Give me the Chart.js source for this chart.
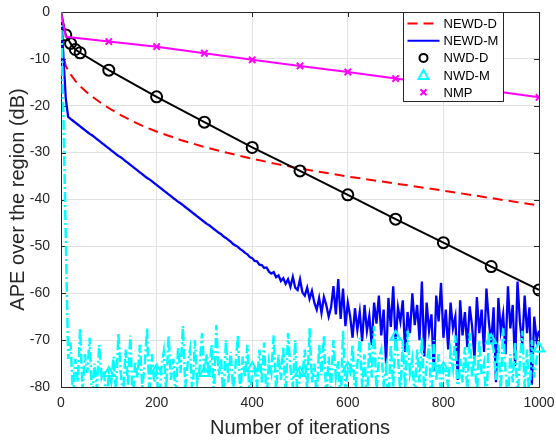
<!DOCTYPE html>
<html>
<head>
<meta charset="utf-8">
<script src="https://cdn.jsdelivr.net/npm/chart.js@4.4.1/dist/chart.umd.min.js"></script>
<style>
  html, body { margin: 0; padding: 0; background: #fff; }
  #wrap { width: 556px; height: 440px; }
</style>
</head>
<body>
<div id="wrap"><canvas id="apeChart" width="556" height="440"></canvas></div>
<script>
// NEWD-M and NWD-M are logged every STEP iterations
const STEP = 5;

// NEWD-D (dashed red)
const newdDIter = [0, 5, 10, 20, 30, 40, 55, 70, 85, 100, 125, 150, 175, 200, 250, 300, 350, 400, 450, 500, 600, 700, 800, 900, 1000];
const newdDApe = [0, -9.5, -11.5, -13.3, -14.7, -15.8, -17.2, -18.4, -19.5, -20.5, -22.0, -23.3, -24.5, -25.5, -27.3, -28.8, -30.1, -31.3, -32.4, -33.4, -35.1, -36.6, -38.1, -39.7, -41.3];

// NEWD-M (solid blue), iterations 0, 5, 10, ... 1000
const newdMApe = [
  0, -9.5, -18.5, -22.4, -22.8, -23.2, -23.6, -24.0, -24.4, -24.8,
  -25.2, -25.6, -26.0, -26.3, -26.7, -27.1, -27.5, -27.9, -28.3, -28.7,
  -29.1, -29.5, -29.9, -30.3, -30.7, -31.0, -31.4, -31.8, -32.2, -32.6,
  -33.0, -33.4, -33.8, -34.2, -34.6, -35.0, -35.4, -35.7, -36.1, -36.5,
  -36.9, -37.3, -37.7, -38.1, -38.5, -38.9, -39.3, -39.7, -40.1, -40.5,
  -40.8, -41.2, -41.6, -42.0, -42.4, -42.8, -43.2, -43.6, -44.0, -44.4,
  -44.8, -45.2, -45.5, -45.9, -46.3, -46.7, -47.1, -47.4, -47.9, -48.2,
  -48.6, -49.0, -49.5, -49.8, -50.1, -50.6, -50.9, -51.4, -51.7, -52.3,
  -52.5, -53.1, -53.2, -53.9, -54.0, -54.6, -54.5, -55.4, -55.8, -55.5,
  -56.6, -56.2, -57.4, -56.8, -58.0, -57.0, -58.6, -56.5, -58.8, -59.3,
  -57.0, -59.8, -60.5, -58.8, -61.2, -59.5, -62.0, -63.5, -61.0, -64.2,
  -60.8, -62.5, -65.0, -63.0, -58.5, -64.5, -57.0, -65.5, -59.0, -67.0,
  -62.0, -65.0, -69.5, -63.2, -67.8, -64.0, -70.2, -62.5, -68.0, -64.8,
  -71.0, -62.0, -66.5, -60.5, -69.0, -63.5, -75.0, -61.0, -67.2, -58.5,
  -70.5, -63.0, -66.0, -61.5, -72.5, -64.0, -68.5, -60.0, -66.8, -62.5,
  -70.0, -57.5, -73.5, -62.0, -68.0, -64.5, -76.5, -60.5, -66.0, -57.8,
  -69.5, -63.5, -72.0, -62.0, -67.5, -65.0, -78.5, -61.5, -69.0, -64.0,
  -71.5, -62.8, -67.0, -74.0, -60.8, -68.5, -63.5, -72.5, -59.0, -66.0,
  -70.8, -63.0, -79.0, -61.0, -68.0, -64.5, -73.0, -58.5, -67.5, -62.5,
  -75.5, -57.5, -66.0, -71.0, -60.5, -68.5, -63.0, -79.5, -65.0, -70.0,
  -68.0
];

// NWD-D (black, circles)
const nwdDIter = [0, 10, 20, 30, 40, 100, 200, 300, 400, 500, 600, 700, 800, 900, 1000];
const nwdDApe = [0, -4.9, -6.7, -8.0, -8.7, -12.4, -18.1, -23.5, -28.9, -33.9, -39.0, -44.2, -49.2, -54.3, -59.3];
const nwdDMarks = [10, 20, 30, 40, 100, 200, 300, 400, 500, 600, 700, 800, 900, 1000];

// NWD-M (dash-dot cyan, triangles), iterations 0, 5, 10, ... 1000
const nwdMApe = [
  0, -22, -48, -74,
  -70.5, -82, -74, -79, -67.5, -81, -73, -77, -69.5, -83,
  -75, -80.5, -71, -78, -76.5, -84, -77, -79, -73.5, -81,
  -68.5, -77, -82, -72, -79.5, -69, -83, -74.5, -78, -71,
  -80, -75.5, -67.5, -82, -73, -79, -76.5, -84, -76, -72.5,
  -81, -69, -78.5, -74, -83, -71.5, -77, -67, -80, -75,
  -72, -82.5, -70, -79, -76, -68.5, -77, -73, -78, -71,
  -81.5, -66.8, -77.5, -74, -83, -70, -79, -72.5, -80.5, -75.5,
  -69, -82, -73.5, -78, -71, -84, -76, -76, -80, -72,
  -79, -70.5, -83, -74.5, -77, -69, -81, -73, -78.5, -71.5,
  -82, -68.5, -76, -80, -70, -84, -77, -78, -72, -81,
  -67.5, -79, -75, -82.5, -71, -77.5, -69, -83, -73.5, -80,
  -70, -78, -74.5, -84, -68, -81, -76, -77, -71, -82,
  -75, -69.5, -80, -73, -83.5, -70.5, -78, -67, -81, -74,
  -72, -79.5, -76, -84, -71, -80, -69.3, -73.5, -82, -70,
  -80.5, -68, -77, -74, -83, -72, -79, -69.5, -81.5, -75,
  -71, -84, -70, -78.5, -73, -82, -76, -77, -80, -72.5,
  -76, -69, -83, -74, -79, -71.5, -81, -68.5, -78, -73,
  -82.5, -70, -77.5, -75, -84, -69, -70, -72, -78.5, -71,
  -81, -67.5, -76.5, -83, -73, -79, -70.5, -82, -74.5, -68,
  -80, -72, -84, -70, -78, -74, -71.8
];

// NMP (magenta, x marks)
const nmpIter = [0, 10, 100, 200, 300, 400, 500, 600, 700, 800, 900, 1000];
const nmpApe = [0, -5.3, -6.3, -7.4, -8.8, -10.2, -11.5, -12.8, -14.2, -15.5, -16.8, -18.2];

const hundredMarks = [100, 200, 300, 400, 500, 600, 700, 800, 900, 1000];

const xTickStep = 200;
const yTickStep = 10;

const FONT = "'Liberation Sans', Arial, Helvetica, sans-serif";
const AXIS_INK = '#262626';

const pairUp = (xs, ys) => xs.map((x, i) => ({ x: x, y: ys[i] }));
const onGrid = ys => ys.map((y, i) => ({ x: i * STEP, y: y }));
const markAt = (list, r) => ctx => (ctx.raw && list.includes(ctx.raw.x) ? r : 0);

// box round the plot with inward tick marks
const axesFrame = {
  id: 'axesFrame',
  beforeDatasetsDraw(chart) {
    const { ctx, chartArea: a, scales } = chart;
    const len = 5;
    ctx.save();
    ctx.strokeStyle = AXIS_INK;
    ctx.lineWidth = 1;
    ctx.beginPath();
    scales.x.ticks.forEach(t => {
      const px = Math.round(scales.x.getPixelForValue(t.value)) + 0.5;
      ctx.moveTo(px, a.bottom); ctx.lineTo(px, a.bottom - len);
      ctx.moveTo(px, a.top); ctx.lineTo(px, a.top + len);
    });
    scales.y.ticks.forEach(t => {
      const py = Math.round(scales.y.getPixelForValue(t.value)) + 0.5;
      ctx.moveTo(a.left, py); ctx.lineTo(a.left + len, py);
      ctx.moveTo(a.right, py); ctx.lineTo(a.right - len, py);
    });
    ctx.stroke();
    ctx.strokeRect(Math.round(a.left) + 0.5, Math.round(a.top) + 0.5,
      Math.round(a.right - a.left), Math.round(a.bottom - a.top));
    ctx.restore();
  }
};

// boxed legend in the top-right corner of the plot
const cornerLegend = {
  id: 'cornerLegend',
  afterDatasetsDraw(chart) {
    const { ctx, chartArea: a } = chart;
    const boxL = Math.round(a.right) - 136 + 0.5;
    const boxT = Math.round(a.top) + 0.5;
    const boxW = 100, boxH = 89;
    const rowH = 17.2;
    const sampleL = boxL + 4, sampleR = boxL + 36;
    const markX = (sampleL + sampleR) / 2;
    const textX = boxL + 40;

    ctx.save();
    ctx.fillStyle = '#fff';
    ctx.fillRect(boxL, boxT, boxW, boxH);
    ctx.strokeStyle = AXIS_INK;
    ctx.lineWidth = 1;
    ctx.strokeRect(boxL, boxT, boxW, boxH);

    chart.data.datasets.forEach((ds, i) => {
      const cy = boxT + 11 + i * rowH;
      ctx.save();
      ctx.strokeStyle = ds.borderColor;
      ctx.lineWidth = 2;
      if (ds.legendMarker) {
        ctx.setLineDash([]);
        ctx.strokeStyle = ds.pointBorderColor;
        ctx.beginPath();
        if (ds.pointStyle === 'circle') {
          ctx.arc(markX, cy, 4, 0, Math.PI * 2);
        } else if (ds.pointStyle === 'triangle') {
          ctx.moveTo(markX, cy - 5);
          ctx.lineTo(markX + 5, cy + 4);
          ctx.lineTo(markX - 5, cy + 4);
          ctx.closePath();
        } else {
          ctx.moveTo(markX - 3, cy - 3); ctx.lineTo(markX + 3, cy + 3);
          ctx.moveTo(markX + 3, cy - 3); ctx.lineTo(markX - 3, cy + 3);
        }
        ctx.stroke();
      } else {
        ctx.setLineDash(ds.borderDash || []);
        ctx.beginPath();
        ctx.moveTo(sampleL, cy);
        ctx.lineTo(sampleR, cy);
        ctx.stroke();
      }
      ctx.restore();

      ctx.fillStyle = '#000';
      ctx.font = '13px ' + FONT;
      ctx.textBaseline = 'middle';
      ctx.textAlign = 'left';
      ctx.fillText(ds.label, textX, cy + 1);
    });
    ctx.restore();
  }
};

// pin the plot box: no extra room for overhanging tick labels
const pinX = scale => {
  scale.height = 53;
  scale.paddingLeft = 0;
  scale.paddingRight = 0;
};
const pinY = scale => {
  scale.width = 61;
  scale.paddingTop = 0;
  scale.paddingBottom = 0;
};

new Chart(document.getElementById('apeChart'), {
  type: 'line',
  data: {
    datasets: [
      {
        label: 'NEWD-D',
        data: pairUp(newdDIter, newdDApe),
        borderColor: '#ff0000',
        borderWidth: 2,
        borderDash: [10, 6],
        pointRadius: 0,
        order: 5
      },
      {
        label: 'NEWD-M',
        data: onGrid(newdMApe),
        borderColor: '#0000ff',
        borderWidth: 2.3,
        pointRadius: 0,
        order: 4
      },
      {
        label: 'NWD-D',
        data: pairUp(nwdDIter, nwdDApe),
        borderColor: '#000000',
        borderWidth: 2,
        pointStyle: 'circle',
        pointRadius: markAt(nwdDMarks, 5.5),
        pointBorderColor: '#000000',
        pointBackgroundColor: 'rgba(0,0,0,0)',
        pointBorderWidth: 2,
        legendMarker: true,
        order: 3
      },
      {
        label: 'NWD-M',
        data: onGrid(nwdMApe),
        borderColor: '#00ffff',
        borderWidth: 2.5,
        borderDash: [10, 3, 2, 3],
        pointStyle: 'triangle',
        pointRadius: markAt(hundredMarks, 6),
        pointBorderColor: '#00ffff',
        pointBackgroundColor: 'rgba(0,0,0,0)',
        pointBorderWidth: 2,
        legendMarker: true,
        clip: { left: 0, top: 0, right: 9, bottom: 0 },
        order: 2
      },
      {
        label: 'NMP',
        data: pairUp(nmpIter, nmpApe),
        borderColor: '#ff00ff',
        borderWidth: 2,
        pointStyle: 'crossRot',
        pointRadius: markAt(hundredMarks, 4.5),
        pointBorderColor: '#ff00ff',
        pointBorderWidth: 2,
        legendMarker: true,
        order: 1
      }
    ]
  },
  options: {
    responsive: false,
    animation: false,
    devicePixelRatio: 1,
    layout: { padding: { top: 12, right: 17, left: 0, bottom: 0 } },
    elements: { line: { tension: 0 } },
    plugins: {
      legend: { display: false },
      tooltip: { enabled: false }
    },
    scales: {
      x: {
        type: 'linear',
        min: 0,
        max: 1000,
        afterFit: pinX,
        ticks: {
          stepSize: xTickStep,
          padding: 8,
          color: AXIS_INK,
          font: { family: FONT, size: 14 },
          maxRotation: 0,
          callback: v => String(v)
        },
        grid: { color: '#e1e1e1', drawTicks: false },
        border: { display: false },
        title: {
          display: true,
          text: 'Number of iterations',
          color: AXIS_INK,
          font: { family: FONT, size: 20 },
          padding: { top: 0, bottom: 0 }
        }
      },
      y: {
        type: 'linear',
        min: -80,
        max: 0,
        afterFit: pinY,
        ticks: {
          stepSize: yTickStep,
          padding: 11,
          color: AXIS_INK,
          font: { family: FONT, size: 14 },
          callback: v => String(v)
        },
        grid: { color: '#e1e1e1', drawTicks: false },
        border: { display: false },
        title: {
          display: true,
          text: 'APE over the region (dB)',
          color: AXIS_INK,
          font: { family: FONT, size: 20 },
          padding: { top: 6, bottom: 0 }
        }
      }
    }
  },
  plugins: [axesFrame, cornerLegend]
});
</script>
</body>
</html>
